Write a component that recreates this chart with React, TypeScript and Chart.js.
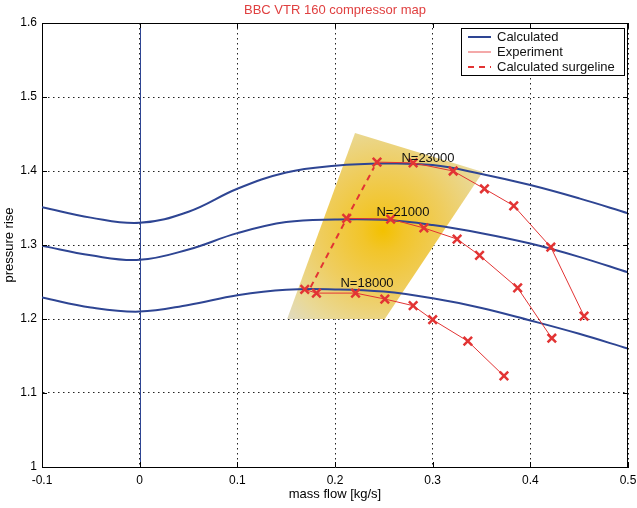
import React, { useEffect, useRef } from 'react';
import { Chart, registerables } from 'chart.js';
Chart.register(...registerables);

// ---- Data ----
const calcMassFlow = [-0.1, -0.05, 0, 0.05, 0.1, 0.15, 0.2, 0.25, 0.3, 0.35, 0.4, 0.45, 0.5];
const calc23000 = [1.351, 1.337, 1.330, 1.345, 1.376, 1.398, 1.407, 1.410, 1.408, 1.396, 1.381, 1.363, 1.343];
const calc21000 = [1.299, 1.286, 1.280, 1.294, 1.316, 1.331, 1.3345, 1.334, 1.327, 1.316, 1.302, 1.284, 1.263];
const calc18000 = [1.229, 1.2155, 1.210, 1.219, 1.232, 1.2395, 1.240, 1.237, 1.228, 1.215, 1.198, 1.180, 1.160];

const exp23000X = [0.243, 0.280, 0.321, 0.353, 0.383, 0.421, 0.455];
const exp23000Y = [1.412, 1.411, 1.400, 1.376, 1.353, 1.297, 1.204];
const exp21000X = [0.212, 0.257, 0.291, 0.325, 0.348, 0.387, 0.422];
const exp21000Y = [1.336, 1.335, 1.323, 1.308, 1.286, 1.242, 1.174];
const exp18000X = [0.169, 0.181, 0.221, 0.251, 0.280, 0.300, 0.336, 0.373];
const exp18000Y = [1.240, 1.235, 1.235, 1.227, 1.218, 1.199, 1.170, 1.123];

const surgeX = [0.175, 0.212, 0.240];
const surgeY = [1.243, 1.336, 1.405];

const speedLabels = ['N=23000', 'N=21000', 'N=18000'];
const speedLabelX = [0.2952, 0.2696, 0.2328];
const speedLabelY = [1.4176, 1.3446, 1.2486];

const shadeX = [0.2205, 0.3514, 0.251, 0.151];
const shadeY = [1.4514, 1.3986, 1.2, 1.2];
const shadeCenter = [0.249, 1.320];

const xTicks = [-0.1, 0, 0.1, 0.2, 0.3, 0.4, 0.5];
const yTicks = [1, 1.1, 1.2, 1.3, 1.4, 1.5, 1.6];

const titleText = 'BBC VTR 160 compressor map';
const legendLabels = ['Calculated', 'Experiment', 'Calculated surgeline'];

const BLUE = '#2e4593';
const RED = '#e23434';
const FONT = '"Liberation Sans", Arial, Helvetica, sans-serif';

const pts = (xs: number[], ys: number[]) => xs.map((x, i) => ({ x, y: ys[i] }));

const decorPlugin = {
  id: 'decor',
  beforeDatasetsDraw(chart: any) {
    const { ctx, chartArea: a, scales } = chart;
    const xs = scales.x, ys = scales.y;
    ctx.save();
    // shaded operating region
    const cx = xs.getPixelForValue(shadeCenter[0]);
    const cy = ys.getPixelForValue(shadeCenter[1]);
    const g = ctx.createRadialGradient(cx, cy, 0, cx, cy, 140);
    g.addColorStop(0, '#f3c100');
    g.addColorStop(0.15, '#f2c52a');
    g.addColorStop(0.45, '#efcd5e');
    g.addColorStop(0.75, '#e9d998');
    g.addColorStop(1, '#dcdbd0');
    ctx.beginPath();
    shadeX.forEach((x, i) => {
      const px = xs.getPixelForValue(x), py = ys.getPixelForValue(shadeY[i]);
      if (i === 0) ctx.moveTo(px, py); else ctx.lineTo(px, py);
    });
    ctx.closePath();
    ctx.fillStyle = g;
    ctx.fill();
    // zero line
    const zx = Math.round(xs.getPixelForValue(0)) + 0.5;
    ctx.strokeStyle = BLUE;
    ctx.lineWidth = 1;
    ctx.beginPath();
    ctx.moveTo(zx, a.top);
    ctx.lineTo(zx, a.bottom);
    ctx.stroke();
    ctx.restore();
  },
  afterDatasetsDraw(chart: any) {
    const { ctx, chartArea: a, scales } = chart;
    const xs = scales.x, ys = scales.y;
    ctx.save();
    // speed labels
    ctx.font = `13px ${FONT}`;
    ctx.fillStyle = '#111';
    ctx.textAlign = 'center';
    ctx.textBaseline = 'middle';
    speedLabels.forEach((t, i) => {
      ctx.fillText(t, xs.getPixelForValue(speedLabelX[i]), ys.getPixelForValue(speedLabelY[i]));
    });
    // frame
    ctx.strokeStyle = '#000';
    ctx.lineWidth = 1;
    ctx.beginPath();
    ctx.moveTo(a.left, Math.round(a.top) + 0.5);
    ctx.lineTo(a.right, Math.round(a.top) + 0.5);
    ctx.moveTo(Math.round(a.right) - 0.5, a.top);
    ctx.lineTo(Math.round(a.right) - 0.5, a.bottom);
    ctx.stroke();
    // inward tick marks
    ctx.beginPath();
    xTicks.forEach((v) => {
      const px = Math.round(xs.getPixelForValue(v)) + 0.5;
      ctx.moveTo(px, a.bottom); ctx.lineTo(px, a.bottom - 5);
      ctx.moveTo(px, a.top); ctx.lineTo(px, a.top + 5);
    });
    yTicks.forEach((v) => {
      const py = Math.round(ys.getPixelForValue(v)) + 0.5;
      ctx.moveTo(a.left, py); ctx.lineTo(a.left + 5, py);
      ctx.moveTo(a.right, py); ctx.lineTo(a.right - 5, py);
    });
    ctx.stroke();
    // title
    ctx.font = `13px ${FONT}`;
    ctx.fillStyle = '#e04040';
    ctx.textAlign = 'center';
    ctx.fillText(titleText, (a.left + a.right) / 2, 10);
    // legend
    const lx = 461.5, ly = 28.5, lw = 163, lh = 47;
    ctx.fillStyle = '#fff';
    ctx.fillRect(lx, ly, lw, lh);
    ctx.strokeStyle = '#000';
    ctx.strokeRect(lx, ly, lw, lh);
    const rows = [37, 52, 67];
    const styles = [
      { c: BLUE, w: 2, d: [] as number[] },
      { c: '#f08c8c', w: 1.5, d: [] as number[] },
      { c: RED, w: 2, d: [6, 5] },
    ];
    legendLabels.forEach((t, i) => {
      ctx.save();
      ctx.strokeStyle = styles[i].c;
      ctx.lineWidth = styles[i].w;
      ctx.setLineDash(styles[i].d);
      ctx.beginPath();
      ctx.moveTo(468, rows[i]);
      ctx.lineTo(491, rows[i]);
      ctx.stroke();
      ctx.restore();
      ctx.fillStyle = '#111';
      ctx.textAlign = 'left';
      ctx.textBaseline = 'middle';
      ctx.font = `13px ${FONT}`;
      ctx.fillText(t, 497, rows[i] + 0.5);
    });
    ctx.restore();
  },
};

export default function App() {
  const ref = useRef<HTMLCanvasElement | null>(null);
  useEffect(() => {
    document.body.style.margin = '0';
    if (!ref.current) return;
    const calcDs = (ys: number[]) => ({
      data: pts(calcMassFlow, ys),
      borderColor: BLUE,
      borderWidth: 2,
      pointRadius: 0,
      showLine: true,
      tension: 0.4,
      order: 3,
    });
    const expDs = (xs: number[], ys: number[]) => ({
      data: pts(xs, ys),
      borderColor: RED,
      borderWidth: 1,
      pointStyle: 'crossRot',
      pointRadius: 6,
      pointBorderWidth: 2.5,
      pointBorderColor: RED,
      pointBackgroundColor: RED,
      showLine: true,
      tension: 0,
      order: 1,
    });
    const chart = new Chart(ref.current, {
      type: 'scatter',
      data: {
        datasets: [
          calcDs(calc23000),
          calcDs(calc21000),
          calcDs(calc18000),
          expDs(exp23000X, exp23000Y),
          expDs(exp21000X, exp21000Y),
          expDs(exp18000X, exp18000Y),
          {
            data: pts(surgeX, surgeY),
            borderColor: RED,
            borderWidth: 2,
            borderDash: [6, 5],
            pointRadius: 0,
            showLine: true,
            order: 2,
          } as any,
        ] as any,
      },
      options: {
        animation: false,
        responsive: false,
        events: [],
        layout: { padding: { top: 23, right: 9, left: 0, bottom: 0 } },
        plugins: { legend: { display: false }, tooltip: { enabled: false }, title: { display: false } },
        scales: {
          x: {
            type: 'linear',
            min: -0.1,
            max: 0.5,
            afterBuildTicks: (s: any) => { s.ticks = xTicks.map((v) => ({ value: v })); },
            afterFit: (s: any) => { s.height = 41; s.paddingLeft = 0; s.paddingRight = 0; },
            grid: { color: '#222', lineWidth: 1, drawTicks: false },
            border: { display: true, color: '#000', width: 1, dash: [1.5, 3.5] },
            ticks: {
              padding: 6,
              color: '#000',
              font: { family: FONT, size: 12 },
              maxRotation: 0,
              autoSkip: false,
              callback: (v: any) => String(Math.round(Number(v) * 10) / 10),
            },
            title: {
              display: true,
              text: 'mass flow [kg/s]',
              color: '#000',
              font: { family: FONT, size: 13 },
              padding: { top: 0, bottom: 6 },
            },
          },
          y: {
            type: 'linear',
            min: 1,
            max: 1.6,
            afterBuildTicks: (s: any) => { s.ticks = yTicks.map((v) => ({ value: v })); },
            afterFit: (s: any) => { s.width = 42; s.paddingTop = 0; s.paddingBottom = 0; },
            grid: { color: '#222', lineWidth: 1, drawTicks: false },
            border: { display: true, color: '#000', width: 1, dash: [1.5, 3.5] },
            ticks: {
              padding: 5,
              color: '#000',
              font: { family: FONT, size: 12 },
              autoSkip: false,
              callback: (v: any) => String(Math.round(Number(v) * 10) / 10),
            },
            title: {
              display: true,
              text: 'pressure rise',
              color: '#000',
              font: { family: FONT, size: 13 },
              padding: { top: 2, bottom: 0 },
            },
          },
        },
      },
      plugins: [decorPlugin],
    } as any);
    return () => chart.destroy();
  }, []);
  return (
    <div style={{ width: 637, height: 508 }}>
      <canvas ref={ref} width={637} height={508} style={{ display: 'block' }} />
    </div>
  );
}
